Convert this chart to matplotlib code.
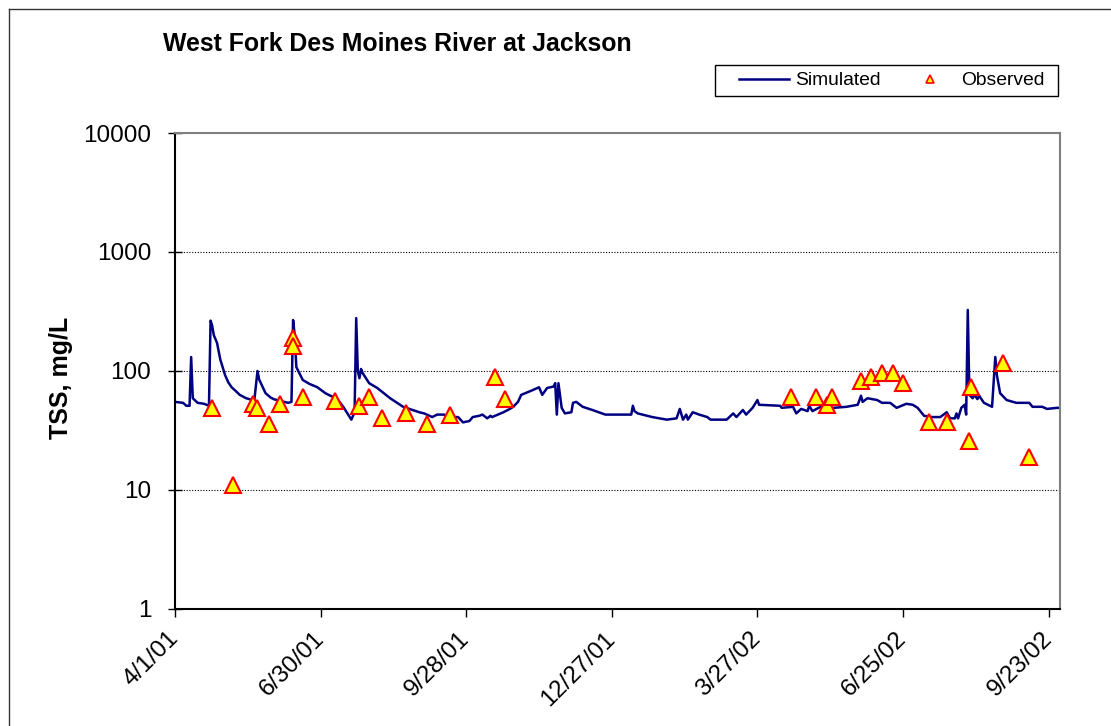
import matplotlib
matplotlib.use("Agg")
import matplotlib.pyplot as plt
import pandas as pd
from matplotlib.lines import Line2D
from matplotlib.patches import Rectangle
from matplotlib.ticker import NullLocator

plt.rcParams["font.family"] = ["Liberation Sans", "DejaVu Sans"]

start = pd.Timestamp("2001-04-01")
end = pd.Timestamp("2002-09-30")

# simulated TSS, days since 4/1/01
sim_day = [0, 5, 7, 9, 10, 11, 14, 18, 21, 22, 23, 24, 26, 28, 31, 33, 35, 38, 40, 44,
           48, 49, 51, 52, 56, 59, 61, 65, 70, 72, 73, 74, 75, 77, 79, 83, 88, 93, 96, 100,
           104, 109, 111, 112, 113, 114, 115, 116, 120, 125, 133, 141, 151, 154, 159, 162, 166, 172, 175, 178,
           182, 184, 188, 190, 193, 195, 196, 203, 207, 209, 212, 214, 221, 225, 227, 230, 234, 235, 236, 237,
           239, 241, 245, 246, 248, 252, 258, 266, 282, 283, 284, 286, 295, 304, 310, 312, 314, 316, 317, 320,
           324, 329, 331, 341, 345, 347, 351, 353, 357, 360, 361, 374, 375, 382, 384, 387, 391, 392, 394, 399,
           407, 415, 422, 424, 425, 428, 434, 437, 442, 446, 452, 456, 459, 463, 468, 473, 477, 479, 482, 483,
           484, 486, 488, 489, 490, 491, 493, 494, 496, 497, 500, 505, 507, 508, 510, 514, 520, 528, 530, 536,
           539, 545, 547]
sim_tss = [55, 54, 51, 51, 131, 59, 54, 53, 51, 265, 240, 200, 172, 125, 92, 80, 73, 67, 63, 59,
           57, 56, 100, 85, 65, 60, 58, 56, 54, 55, 268, 200, 108, 95, 84, 78, 73, 65, 62, 59,
           50, 39, 45, 278, 100, 87, 104, 96, 79, 72, 59, 50, 45, 44, 41, 43, 43, 41, 41, 37,
           38, 41, 42, 43, 40, 42, 41, 45, 48, 50, 55, 63, 69, 73, 63, 72, 74, 79, 43, 79,
           49, 44, 45, 54, 55, 50, 47, 43, 43, 51, 46, 44, 41, 39, 40, 48, 39, 43, 39, 45,
           43, 41, 39, 39, 44, 41, 47, 43, 49, 57, 52, 51, 49, 50, 44, 48, 46, 51, 46, 50,
           49, 50, 52, 62, 55, 59, 57, 54, 54, 49, 53, 52, 49, 42, 41, 41, 45, 40, 40, 44,
           40, 49, 52, 43, 326, 63, 59, 63, 58, 62, 54, 50, 131, 92, 65, 57, 54, 54, 50, 50,
           48, 49, 49]

obs_date = ["2001-04-24", "2001-05-07", "2001-05-19", "2001-05-22", "2001-05-29", "2001-06-05",
            "2001-06-13", "2001-06-13", "2001-06-19", "2001-07-09", "2001-07-24", "2001-07-30",
            "2001-08-07", "2001-08-22", "2001-09-04", "2001-09-18", "2001-10-16", "2001-10-22",
            "2002-04-17", "2002-05-02", "2002-05-09", "2002-05-12", "2002-05-30", "2002-06-05",
            "2002-06-12", "2002-06-19", "2002-06-25", "2002-07-11", "2002-07-22", "2002-08-05",
            "2002-08-06", "2002-08-26", "2002-09-11"]
obs_tss = [49, 11, 53, 49, 36, 53, 189, 162, 60, 56, 51, 61, 40, 44, 36, 43, 89, 58,
           61, 60, 52, 60, 82, 89, 96, 96, 79, 37, 37, 26, 73, 117, 19]

tick_labels = ["4/1/01", "6/30/01", "9/28/01", "12/27/01", "3/27/02", "6/25/02", "9/23/02"]
y_ticks = [1, 10, 100, 1000, 10000]

sim_x = start + pd.to_timedelta(sim_day, unit="D")
obs_x = pd.to_datetime(obs_date)
tick_x = pd.to_datetime(tick_labels, format="%m/%d/%y")

fig = plt.figure(figsize=(11.11, 7.26), dpi=100)
ax = fig.add_axes([0.1575, 0.1612, 0.7966, 0.6556])

for y in y_ticks[1:-1]:
    ax.axhline(y, color="black", linestyle=(0, (1, 1.5)), linewidth=0.8, zorder=1)

ax.plot(sim_x, sim_tss, color="#000080", linewidth=1.8, zorder=2)
ax.plot(obs_x, obs_tss, linestyle="none", marker="^", markersize=11,
        markerfacecolor="#FFFF00", markeredgecolor="#FF0000", markeredgewidth=1.5, zorder=3)

ax.set_yscale("log")
ax.set_ylim(1, 10000)
ax.set_xlim(start, end)
ax.set_yticks(y_ticks)
ax.set_yticklabels([str(v) for v in y_ticks])
ax.yaxis.set_minor_locator(NullLocator())
ax.set_xticks(tick_x)
ax.set_xticklabels(tick_labels, rotation=45, ha="right", va="center", rotation_mode="anchor")
ax.xaxis.set_minor_locator(NullLocator())

ax.tick_params(axis="y", direction="inout", length=10, width=1, pad=12, labelsize=17.5)
ax.tick_params(axis="x", direction="out", length=6, width=1, pad=13, labelsize=17.5, colors="black")

for side in ["left", "bottom"]:
    ax.spines[side].set_color("black")
    ax.spines[side].set_linewidth(1.5)
for side in ["top", "right"]:
    ax.spines[side].set_color("#808080")
    ax.spines[side].set_linewidth(1.5)

fig.text(163 / 1111, 1 - 51 / 726, "West Fork Des Moines River at Jackson",
         fontsize=17.9, fontweight="bold", ha="left", va="baseline")
fig.text(61 / 1111, 1 - 378 / 726, "TSS, mg/L", fontsize=18, fontweight="bold",
         rotation=90, ha="center", va="center")

# legend
h_sim = Line2D([], [], color="#000080", linewidth=1.8)
h_obs = Line2D([], [], linestyle="none", marker="^", markersize=6,
               markerfacecolor="#FFFF00", markeredgecolor="#FF0000", markeredgewidth=1.2)
fig.legend([h_sim, h_obs], ["Simulated", "Observed"], loc="center right",
           bbox_to_anchor=(1044 / 1111, 1 - 80.5 / 726), ncol=2, frameon=False,
           fontsize=13.9, handlelength=2.6, handletextpad=0.3, columnspacing=1.25,
           borderpad=0, borderaxespad=0)
fig.patches.append(Rectangle((715 / 1111, 1 - 96 / 726), 343 / 1111, 31 / 726,
                             transform=fig.transFigure, fill=False, edgecolor="black", linewidth=1))

# outer frame (chart area border)
fig.add_artist(Line2D([9 / 1111, 9 / 1111], [0, 1 - 9 / 726], color="#333333", linewidth=1,
                      transform=fig.transFigure))
fig.add_artist(Line2D([9 / 1111, 1], [1 - 9 / 726, 1 - 9 / 726], color="#333333", linewidth=1,
                      transform=fig.transFigure))

fig.savefig("out.png", dpi=100)
